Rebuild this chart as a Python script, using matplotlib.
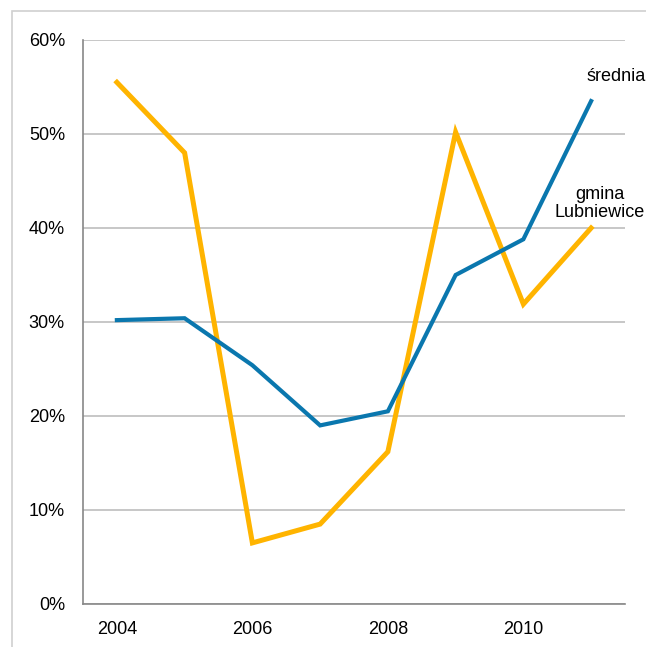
import matplotlib.pyplot as plt
from matplotlib.patches import Rectangle

# dane z wykresu
lata = [2004, 2005, 2006, 2007, 2008, 2009, 2010, 2011]
gmina = [55.5, 48.0, 6.5, 8.5, 16.2, 50.2, 31.9, 40.0]
srednia = [30.2, 30.4, 25.4, 19.0, 20.5, 35.0, 38.8, 53.5]
y_ticks = [0, 10, 20, 30, 40, 50, 60]
x_ticks = [2004, 2006, 2008, 2010]

plt.rcParams['font.family'] = ['Liberation Sans', 'DejaVu Sans']

fig = plt.figure(figsize=(6.46, 6.47), dpi=100)

# ramka wokol wykresu (jasnoszara)
fig.patches.append(Rectangle((12 / 646, -0.05), 1.0, 1 - 11 / 647 + 0.05,
                             transform=fig.transFigure, fill=False,
                             edgecolor='#D0D0D0', linewidth=1.2))

ax = fig.add_axes([83 / 646, 43 / 647, 542 / 646, 564 / 647])

ax.plot(lata, gmina, color='#FFB400', linewidth=3.6, solid_joinstyle='miter')
ax.plot(lata, srednia, color='#0A77AE', linewidth=3.0, solid_joinstyle='miter')

ax.set_xlim(2003.5, 2011.5)
ax.set_ylim(0, 60)
ax.set_yticks(y_ticks)
ax.set_yticklabels([f'{v}%' for v in y_ticks])
ax.set_xticks(x_ticks)

ax.grid(axis='y', color='#BEBEBE', linewidth=1.2)
ax.set_axisbelow(True)
for s in ['top', 'right']:
    ax.spines[s].set_visible(False)
for s in ['left', 'bottom']:
    ax.spines[s].set_color('#888888')
    ax.spines[s].set_linewidth(1.2)

ax.tick_params(axis='both', length=0, labelsize=13, colors='black')
ax.tick_params(axis='y', pad=13)
ax.tick_params(axis='x', pad=12)

# podpisy serii
ax.text(2011.37, 56.1, 'średnia', ha='center', va='center', fontsize=13, clip_on=False)
ax.text(2011.13, 42.6, 'gmina\nLubniewice', ha='center', va='center', fontsize=13,
        linespacing=1.1, clip_on=False)

fig.savefig('out.png', dpi=100)
